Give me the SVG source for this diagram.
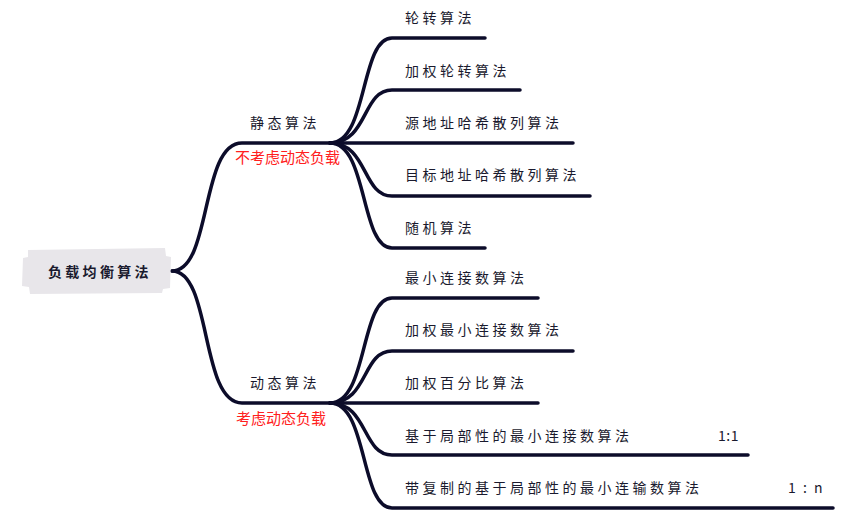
<svg xmlns="http://www.w3.org/2000/svg" width="853" height="531" viewBox="0 0 853 531">
<style>
.t{font-family:"Noto Sans CJK SC","Liberation Sans",sans-serif;font-size:14px;letter-spacing:3.5px;fill:#1a1a2e}
.n{font-family:"Noto Sans CJK SC","Liberation Sans",sans-serif;font-size:14px;fill:#1a1a2e}
.r{font-family:"Noto Sans CJK SC","Liberation Sans",sans-serif;font-size:15px;fill:#ff2020}
.root{font-family:"Noto Sans CJK SC","Liberation Sans",sans-serif;font-size:14px;font-weight:bold;letter-spacing:3.3px;fill:#1a1a2e}
.c{fill:none;stroke:#0c0c2a;stroke-width:3.5;stroke-linecap:round}
</style>
<rect width="853" height="531" fill="#ffffff"/>
<g id="connectors">
<path class="c" d="M172,271 C212,271 200,143 242,143 L330,143"/>
<path class="c" d="M172,271 C212,271 200,403 242,403 L330,403"/>
<path class="c" d="M330,143 C368,143 360,38 392,38 L485,38"/>
<path class="c" d="M330,143 C368,143 362,90 392,90 L520,90"/>
<path class="c" d="M330,143 L573,143"/>
<path class="c" d="M330,143 C368,143 362,196 392,196 L590,196"/>
<path class="c" d="M330,143 C368,143 360,248 392,248 L485,248"/>
<path class="c" d="M330,403 C368,403 360,298 392,298 L538,298"/>
<path class="c" d="M330,403 C368,403 362,351 392,351 L573,351"/>
<path class="c" d="M330,403 L538,403"/>
<path class="c" d="M330,403 C368,403 362,455 392,455 L748,455"/>
<path class="c" d="M330,403 C368,403 360,508 392,508 L833,508"/>
</g>
<g id="root">
<path d="M28,250 L165,248 L166,256 L171,257 L170,288 L163,289 L162,293 L30,294 L29,287 L22,286 L23,258 L28,257 Z" fill="#e8e6ea"/>
<text class="root" x="48" y="277">负载均衡算法</text>
</g>
<g id="static">
<text class="t" x="250" y="128">静态算法</text>
<text class="r" x="235" y="163">不考虑动态负载</text>
</g>
<g id="dynamic">
<text class="t" x="250" y="388">动态算法</text>
<text class="r" x="236" y="424">考虑动态负载</text>
</g>
<g id="s1"><text class="t" x="405" y="23">轮转算法</text></g>
<g id="s2"><text class="t" x="405" y="76">加权轮转算法</text></g>
<g id="s3"><text class="t" x="405" y="128">源地址哈希散列算法</text></g>
<g id="s4"><text class="t" x="405" y="180">目标地址哈希散列算法</text></g>
<g id="s5"><text class="t" x="405" y="233">随机算法</text></g>
<g id="d1"><text class="t" x="405" y="283">最小连接数算法</text></g>
<g id="d2"><text class="t" x="405" y="335">加权最小连接数算法</text></g>
<g id="d3"><text class="t" x="405" y="388">加权百分比算法</text></g>
<g id="d4"><text class="t" x="405" y="441">基于局部性的最小连接数算法</text><text class="n" x="718" y="441" letter-spacing="0.5">1:1</text></g>
<g id="d5"><text class="t" x="405" y="493">带复制的基于局部性的最小连输数算法</text><text class="n" x="788" y="493" letter-spacing="2">1 : n</text></g>
</svg>
